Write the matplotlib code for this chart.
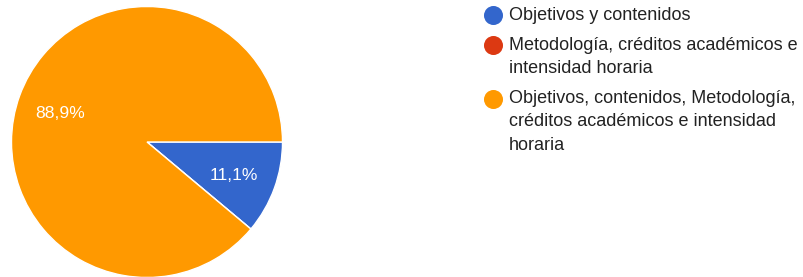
import matplotlib
matplotlib.use("Agg")
import matplotlib.pyplot as plt
import matplotlib.transforms as mtransforms
import textwrap

labels = ["Objetivos y contenidos",
          "Metodología, créditos académicos e intensidad horaria",
          "Objetivos, contenidos, Metodología, créditos académicos e intensidad horaria"]
values = [11.1, 0.0, 88.9]
colors = ["#3366cc", "#dc3912", "#ff9900"]
wrap_widths = [40, 34, 36]

plt.rcParams['font.family'] = ['Liberation Sans', 'DejaVu Sans']

W, H = 804, 277
fig = plt.figure(figsize=(W/100, H/100), dpi=100)

# pie axes: center (147,142), radius 135 px
cx, cy, r = 147, 142, 135.5
ax = fig.add_axes([(cx - r)/W, (H - cy - r)/H, 2*r/W, 2*r/H])
ax.set_xlim(-1, 1); ax.set_ylim(-1, 1)
ax.set_aspect('equal'); ax.axis('off')

def fmt(p):
    return ("%.1f%%" % p).replace('.', ',') if p > 0.5 else ""

wedges, texts, autotexts = ax.pie(values, colors=colors, startangle=0, counterclock=False,
                                  radius=1, autopct=fmt, pctdistance=0.68,
                                  wedgeprops=dict(edgecolor='white', linewidth=1),
                                  textprops=dict(color='white', fontsize=12.6))
ax.set_xlim(-1, 1); ax.set_ylim(-1, 1)
for t in autotexts:
    t.set_transform(mtransforms.offset_copy(ax.transData, fig=fig, x=0, y=-2.5, units='dots'))

# legend overlay in pixel coordinates
lax = fig.add_axes([0, 0, 1, 1])
lax.set_xlim(0, W); lax.set_ylim(H, 0); lax.axis('off')
y = 15
line_h = 23.5
for lab, col, ww in zip(labels, colors, wrap_widths):
    lines = textwrap.wrap(lab, ww)
    lax.plot([493], [y], marker='o', markersize=13.7, color=col, markeredgewidth=0)
    for i, ln in enumerate(lines):
        lax.text(509, y + i*line_h, ln, fontsize=13, color='#222222', va='center', ha='left')
    y += len(lines)*line_h + 6.5

fig.savefig("out.png", dpi=100, facecolor='white')
